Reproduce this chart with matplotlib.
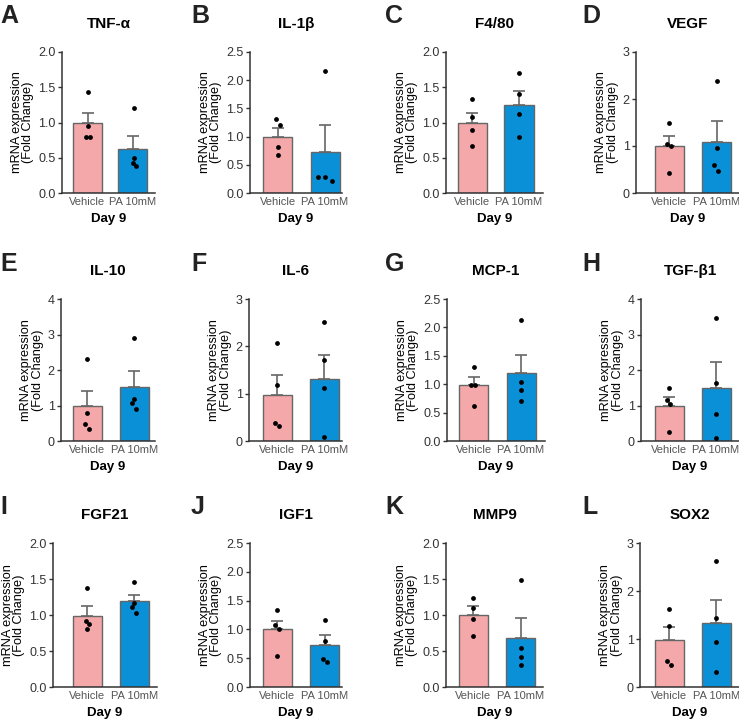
import numpy as np
import matplotlib
matplotlib.use('Agg')
import matplotlib.pyplot as plt

plt.rcParams['font.family'] = ['Liberation Sans', 'DejaVu Sans']

# ── Data ────────────────────────────────────────────────────────────────────
letters = list('ABCDEFGHIJKL')
genes = ['TNF-α', 'IL-1β', 'F4/80', 'VEGF', 'IL-10', 'IL-6',
         'MCP-1', 'TGF-β1', 'FGF21', 'IGF1', 'MMP9', 'SOX2']
groups = ['Vehicle', 'PA 10mM']

y_max = [2.0, 2.5, 2.0, 3, 4, 3, 2.5, 4, 2.0, 2.5, 2.0, 3]
y_step = [0.5, 0.5, 0.5, 1, 1, 1, 0.5, 1, 0.5, 0.5, 0.5, 1]

veh_mean = [1.00, 1.00, 1.00, 1.00, 0.99, 0.98, 0.99, 0.98, 0.99, 1.00, 1.00, 0.98]
veh_top = [1.14, 1.15, 1.14, 1.21, 1.42, 1.40, 1.12, 1.24, 1.12, 1.14, 1.12, 1.26]
pa_mean = [0.62, 0.73, 1.25, 1.09, 1.51, 1.31, 1.19, 1.48, 1.19, 0.73, 0.68, 1.33]
pa_top = [0.81, 1.20, 1.45, 1.53, 1.97, 1.82, 1.51, 2.22, 1.28, 0.90, 0.96, 1.82]

veh_pts = [[1.435, 0.955, 0.80, 0.80],
           [1.31, 1.21, 0.82, 0.68],
           [1.34, 1.08, 0.89, 0.66],
           [1.50, 1.04, 1.01, 0.42],
           [2.32, 0.78, 0.47, 0.34],
           [2.07, 1.19, 0.37, 0.32],
           [1.30, 0.99, 0.99, 0.62],
           [1.50, 1.15, 1.05, 0.24],
           [1.38, 0.91, 0.88, 0.80],
           [1.33, 1.07, 1.01, 0.54],
           [1.24, 1.10, 0.94, 0.71],
           [1.62, 1.28, 0.55, 0.46]]
pa_pts = [[1.21, 0.49, 0.42, 0.38],
          [2.16, 0.29, 0.28, 0.22],
          [1.70, 1.40, 1.12, 0.79],
          [2.38, 0.95, 0.59, 0.46],
          [2.91, 1.18, 1.06, 0.90],
          [2.52, 1.72, 1.13, 0.09],
          [2.13, 1.03, 0.90, 0.70],
          [3.47, 1.62, 0.75, 0.09],
          [1.46, 1.17, 1.11, 1.03],
          [1.17, 0.80, 0.48, 0.43],
          [1.49, 0.54, 0.42, 0.31],
          [2.63, 1.44, 0.93, 0.32]]

# horizontal scatter of the dots (fraction of bar spacing)
veh_off = [[0, 0, -0.05, 0.07], [-0.06, 0.06, 0, 0], [0, 0, 0, 0],
           [0, -0.05, 0.06, 0], [0, 0, -0.05, 0.06], [0, 0, -0.06, 0.06],
           [0, -0.08, 0.05, 0], [0, -0.05, 0.04, 0], [0, -0.05, 0.06, 0],
           [0, -0.06, 0.04, 0], [0, 0, 0, 0], [0, 0, -0.06, 0.05]]
pa_off = [[0.05, 0.05, 0, 0.11], [0, -0.19, 0, 0.19], [0, 0, 0, 0],
          [0, 0, -0.06, 0.04], [0, 0, -0.06, 0.06], [0, 0, 0, 0],
          [0, 0, 0, 0], [0, 0, 0, 0], [0, 0, -0.06, 0.06],
          [0, 0, -0.05, 0.06], [0, 0, 0, 0], [0, 0, 0, 0]]

# ── Layout (pixels) ─────────────────────────────────────────────────────────
W, H = 739, 722
# spine x, vehicle centre, PA centre, right end
cols = [(62, 87.5, 132.5, 155), (250, 277.7, 325, 342),
        (446, 472.5, 519, 543), (636, 669, 716.5, 739),
        (61, 87, 134.3, 155), (249, 277, 324.3, 342),
        (447, 473.7, 521, 545), (641, 669, 716, 739),
        (53, 87.3, 134.3, 157), (250, 277.3, 324.7, 342),
        (446, 473.3, 520.7, 543), (640, 669.3, 716.3, 739)]
rows = [(52, 193), (299, 441), (543, 687)]
letter_x = [0, 191, 385, 582]
letter_base = [23, 271, 514]

pink = '#F5A8AA'
blue = '#0A90D6'
edge = '#666666'

fig = plt.figure(figsize=(W / 100, H / 100), dpi=100)

for i in range(12):
    r, c = divmod(i, 4)
    x0, c0, c1, x1 = cols[i]
    top, bot = rows[r]
    ax = fig.add_axes([x0 / W, 1 - bot / H, (x1 - x0) / W, (bot - top) / H])
    unit = c1 - c0
    bw = 29 / unit

    ax.bar([0, 1], [veh_mean[i], pa_mean[i]], width=bw,
           color=[pink, blue], edgecolor=edge, linewidth=1.0, zorder=2)
    ax.errorbar([0, 1], [veh_mean[i], pa_mean[i]],
                yerr=[[0, 0], [veh_top[i] - veh_mean[i], pa_top[i] - pa_mean[i]]],
                fmt='none', ecolor=edge, elinewidth=1.2, capsize=4.5,
                capthick=1.2, zorder=1)
    ax.scatter(np.array(veh_off[i]) * 0.75, veh_pts[i], s=12, color='black',
               zorder=3, linewidths=0)
    ax.scatter(1 + np.array(pa_off[i]) * 0.75, pa_pts[i], s=12, color='black',
               zorder=3, linewidths=0)

    ax.set_xlim((x0 - c0) / unit, 1 + (x1 - c1) / unit)
    ax.set_ylim(0, y_max[i])
    ticks = np.arange(0, y_max[i] + 1e-9, y_step[i])
    ax.set_yticks(ticks)
    if y_step[i] < 1:
        ax.set_yticklabels([f'{t:.1f}' for t in ticks])
    else:
        ax.set_yticklabels([f'{t:.0f}' for t in ticks])
    ax.set_xticks([0, 1])
    ax.set_xticklabels(groups, fontsize=8, color='#555555')
    ax.tick_params(axis='x', length=0, pad=3)
    ax.tick_params(axis='y', length=3, width=1, color='#333333',
                   labelsize=9, labelcolor='#333333', pad=1.5)
    for s in ['top', 'right']:
        ax.spines[s].set_visible(False)
    for s in ['left', 'bottom']:
        ax.spines[s].set_color('#333333')
        ax.spines[s].set_linewidth(1.1)
    ax.set_ylabel('mRNA expression\n(Fold Change)', fontsize=9.2,
                  linespacing=0.95, labelpad=3)
    ax.set_xlabel('Day 9', fontsize=9.5, fontweight='bold', labelpad=4)

    fig.text((x0 + x1) / 2 / W, 1 - (top - 24) / H, genes[i],
             fontsize=11, fontweight='bold', ha='center', va='baseline')
    fig.text(letter_x[c] / W, 1 - letter_base[r] / H, letters[i],
             fontsize=18, fontweight='bold', ha='left', va='baseline',
             color='#222222')

fig.savefig('out.png', dpi=100)
